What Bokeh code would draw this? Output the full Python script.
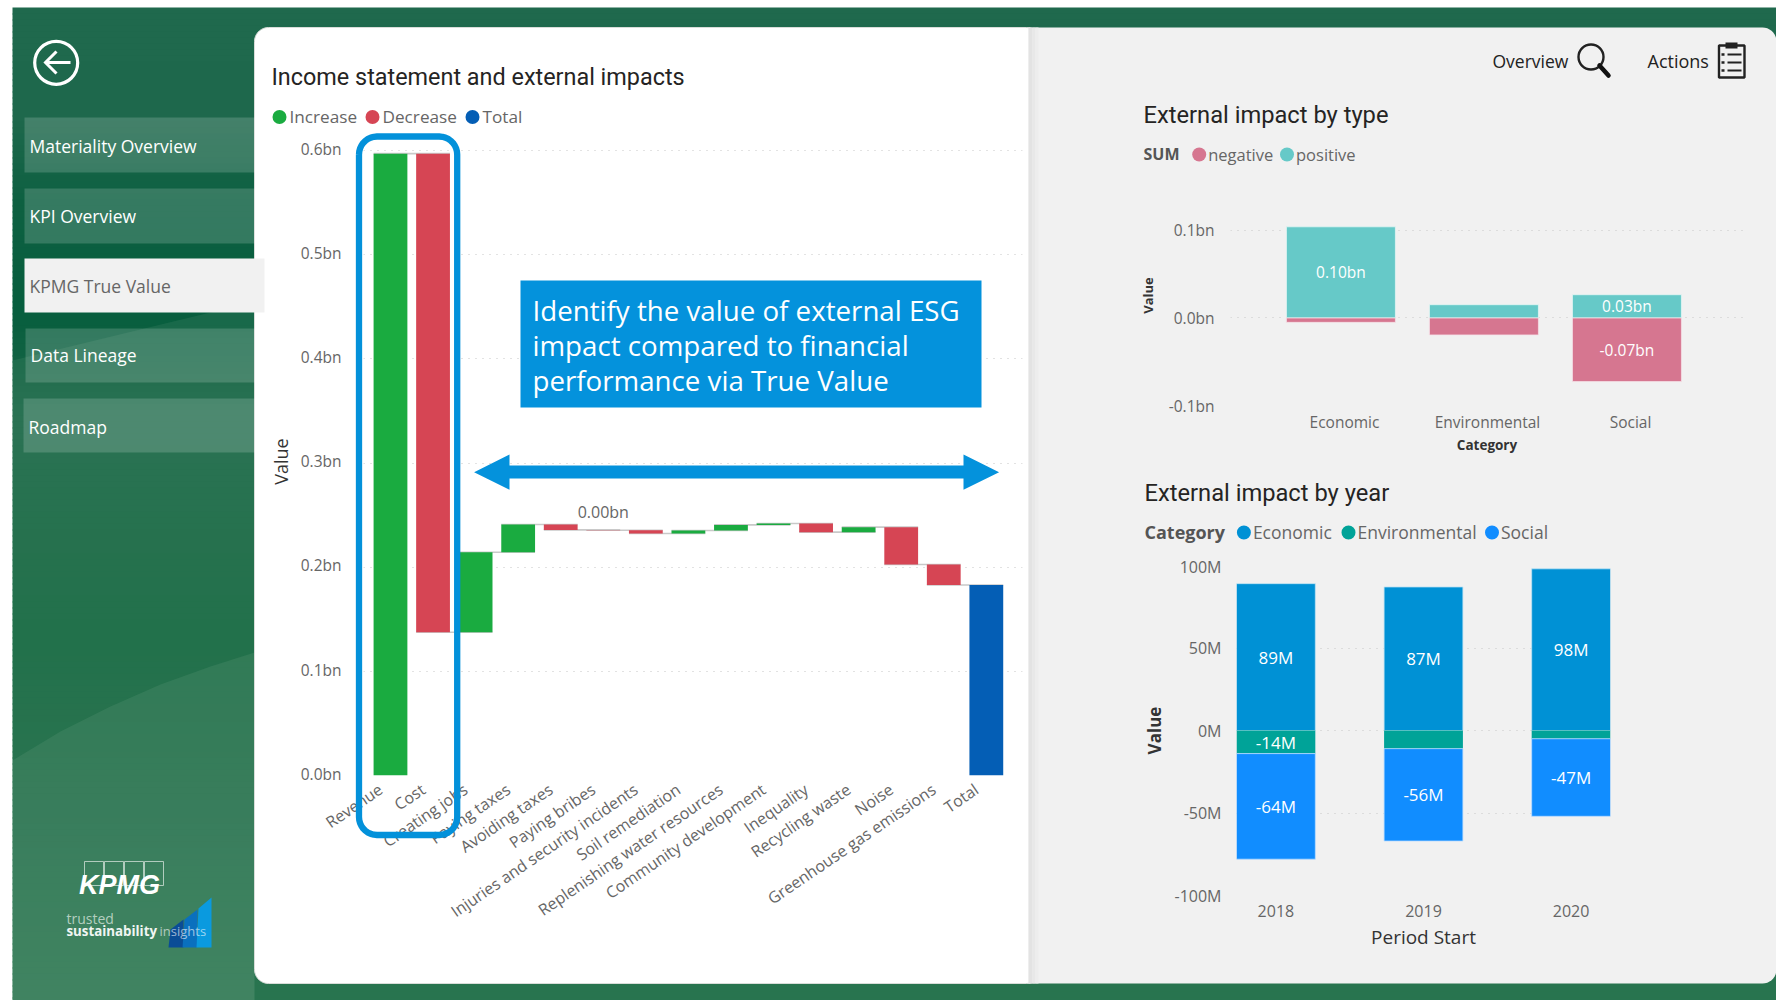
import numpy as np
from bokeh.embed import file_html
from bokeh.layouts import column
from bokeh.models import FixedTicker, Range1d
from bokeh.plotting import figure
from bokeh.resources import INLINE

# ---- Income statement waterfall (bn) ----
waterfall_names = ["Revenue", "Cost", "Creating jobs", "Paying taxes", "Avoiding taxes", "Paying bribes",
                   "Injuries and security incidents", "Soil remediation", "Replenishing water resources",
                   "Community development", "Inequality", "Recycling waste", "Noise",
                   "Greenhouse gas emissions", "Total"]
waterfall_deltas = [0.597, -0.4595, 0.0768, 0.0266, -0.0051, -0.0003, -0.0032, 0.0029, 0.0054, 0.0013,
                    -0.0083, 0.0048, -0.0359, -0.0196]
waterfall_note = {5: "0.00bn"}
waterfall_ticks = [0.0, 0.1, 0.2, 0.3, 0.4, 0.5, 0.6]

# ---- External impact by type (bn) ----
type_names = ["Economic", "Environmental", "Social"]
type_positive = [0.1042, 0.0152, 0.0266]
type_negative = [-0.005, -0.0194, -0.0727]
type_positive_labels = ["0.10bn", "", "0.03bn"]
type_negative_labels = ["", "", "-0.07bn"]
type_ticks = [-0.1, 0.0, 0.1]

# ---- External impact by year (M) ----
years = ["2018", "2019", "2020"]
year_economic = [89, 87, 98]
year_environmental = [-14, -11, -5]
year_social = [-64, -56, -47]
year_economic_labels = ["89M", "87M", "98M"]
year_environmental_labels = ["-14M", "", ""]
year_social_labels = ["-64M", "-56M", "-47M"]
year_ticks = [-100, -50, 0, 50, 100]

INCREASE, DECREASE, TOTAL = "#1AAB40", "#D64554", "#045EB5"
POSITIVE, NEGATIVE = "#66C9C8", "#D67690"
ECONOMIC, ENVIRONMENTAL, SOCIAL = "#0091D5", "#00A398", "#118DFF"
ACCENT = "#0492DC"
AXIS_GREY = "#666666"
BODY_FONT = "Open Sans"
TITLE_FONT = "Roboto"


def place(fig, left, top):
    fig.styles = {"position": "absolute", "left": f"{left}px", "top": f"{top}px"}
    fig.frame_align = False
    return fig


def sheet():
    """Transparent full-window figure whose data units are window pixels."""
    fig = figure(width=1776, height=1000, x_range=Range1d(0, 1776), y_range=Range1d(1000, 0),
                 x_axis_location=None, y_axis_location=None,
                 output_backend="svg", toolbar_location=None, min_border=0,
                 background_fill_color=None, border_fill_color=None, outline_line_color=None)
    fig.grid.visible = False
    return place(fig, 0, 0)


def chart(box, frame, x_range, y_range):
    """Chart whose plotting frame sits at frame=(x0, y0, x1, y1) inside box=(x0, y0, x1, y1)."""
    fig = figure(width=box[2] - box[0], height=box[3] - box[1], x_range=x_range, y_range=y_range,
                 min_border_left=frame[0] - box[0], min_border_right=box[2] - frame[2],
                 min_border_top=frame[1] - box[1], min_border_bottom=box[3] - frame[3],
                 output_backend="svg", toolbar_location=None,
                 background_fill_color=None, border_fill_color=None, outline_line_color=None)
    fig.xgrid.visible = False
    fig.ygrid.grid_line_color = "#C6C6C6"
    fig.ygrid.grid_line_dash = "1 6"
    fig.ygrid.grid_line_width = 1.2
    for ax in fig.axis:
        ax.axis_line_color = None
        ax.major_tick_line_color = None
        ax.minor_tick_line_color = None
        ax.major_label_text_font = BODY_FONT
        ax.major_label_text_color = AXIS_GREY
        ax.axis_label_text_font = BODY_FONT
        ax.axis_label_text_font_style = "normal"
    return place(fig, box[0], box[1])


def write(fig, x, y, text, size, color="#333333", font=BODY_FONT, style="normal", align="left", alpha=1.0):
    fig.text([x], [y], text=[text], text_font_size=f"{size}px", text_color=color, text_alpha=alpha,
             text_font={"value": font}, text_font_style=style, text_align=align, text_baseline="middle")


def rounded(x0, y0, x1, y1, r):
    t = np.linspace(0, np.pi / 2, 10)
    xs = np.concatenate([x0 + r - r * np.cos(t), x1 - r + r * np.sin(t), x1 - r + r * np.cos(t), x0 + r - r * np.sin(t)])
    ys = np.concatenate([y0 + r - r * np.sin(t), y0 + r - r * np.cos(t), y1 - r + r * np.sin(t), y1 - r + r * np.cos(t)])
    return np.append(xs, xs[0]), np.append(ys, ys[0])


def dot_legend(fig, y, heading, heading_x, heading_size, entries, size, gap=9):
    if heading:
        write(fig, heading_x, y, heading, heading_size, color="#555555", style="bold")
    for cx, name, color in entries:
        fig.circle([cx], [y + 0.5], radius=7, fill_color=color, line_color=None)
        write(fig, cx + gap, y, name, size, color=AXIS_GREY)


# ---- Page chrome ----
back = sheet()
stops_y = [7, 120, 200, 310, 420, 640, 800, 1000]
stops_rgb = np.array([[32, 106, 78], [30, 104, 76], [14, 97, 66], [7, 94, 62],
                      [30, 106, 74], [20, 104, 64], [30, 108, 72], [41, 117, 80]], dtype=float)
band_edges = np.append(np.arange(7, 998, 6), 1000)
band_mid = (band_edges[:-1] + band_edges[1:]) / 2
band_colors = ["#%02x%02x%02x" % tuple(int(np.interp(m, stops_y, stops_rgb[:, c])) for c in range(3)) for m in band_mid]
back.quad(left=12, right=1776, top=band_edges[:-1], bottom=band_edges[1:] + 1, fill_color=band_colors, line_color=None)
back.patch([12, 210, 254, 254, 12], [360, 312, 304, 1000, 1000], fill_color="#8FB89F", fill_alpha=0.12, line_color=None)
wave_x = [12, 60, 110, 160, 210, 254, 254, 12]
wave_y = [760, 731, 706, 684, 666, 652, 1000, 1000]
back.patch(wave_x, wave_y, fill_color="#8FB89F", fill_alpha=0.14, line_color=None)

xs, ys = rounded(254, 27, 1040, 983, 14)
back.patch(xs, ys, fill_color="#FFFFFF", line_color="#D8DDD9", line_width=1)
xs, ys = rounded(1000, 27, 1776, 983, 14)
right_half = xs > 1100
back.patch(np.concatenate([[1028], xs[right_half], [1028]]), np.concatenate([[27], ys[right_half], [983]]),
           fill_color="#F1F1F1", line_color=None)
back.quad(left=[1028, 1032, 1035], right=[1032, 1035, 1038], top=27, bottom=983,
          fill_color=["#E3E3E3", "#E8E8E8", "#EDEDED"], line_color=None)

# Navigation
nav_items = [("Materiality Overview", 24, 117, 172, 145, False), ("KPI Overview", 24, 188, 243, 215, False),
             ("KPMG True Value", 24, 258, 312, 285, True), ("Data Lineage", 25, 328, 382, 354.5, False),
             ("Roadmap", 23, 398, 452, 426, False)]
for name, nx, ny0, ny1, ty_label, active in nav_items:
    back.quad(left=nx, right=nx + 240, top=ny0, bottom=ny1, fill_color="#F1F1F1" if active else "#FFFFFF",
              fill_alpha=1.0 if active else 0.17, line_color=None)
    write(back, nx + 5, ty_label, name, 17.5, color="#666666" if active else "#FFFFFF")

# Back button
back.circle([55.7], [62.3], radius=21.5, fill_color=None, line_color="#FFFFFF", line_width=3.2)
back.line([46, 70], [62, 62], line_color="#FFFFFF", line_width=3)
back.line([56, 45, 56], [51, 62, 73], line_color="#FFFFFF", line_width=3, line_join="miter")

# Brand block
for k in range(4):
    back.quad(left=84 + k * 20, right=103 + k * 20, top=861, bottom=885, fill_color=None,
              line_color="#CFE0D6", line_width=1, line_alpha=0.8)
write(back, 119, 884, "KPMG", 27, color="#FFFFFF", font="Liberation Sans", style="bold italic", align="center")
write(back, 66, 918, "trusted", 14, color="#D5E3DA", alpha=0.8)
write(back, 66, 930, "sustainability", 13.3, color="#F0F5F2", style="bold")
back.patch([170, 183, 183, 168], [929, 919, 947, 947], fill_color="#0A4C96", line_color=None)
back.patch([184, 197, 197, 182], [919, 909, 947, 947], fill_color="#0A70BE", line_color=None)
back.patch([198, 211, 211, 196], [908, 897, 947, 947], fill_color="#0A9ADF", line_color=None)
write(back, 159, 930, "insights", 13, color="#FFFFFF", alpha=0.6)

# Report links
write(back, 1492, 60, "Overview", 17.5, color="#222222")
back.circle([1590.5], [56.5], radius=12.5, fill_color=None, line_color="#222222", line_width=2.4)
back.line([1599, 1608], [65, 75], line_color="#111111", line_width=4.5, line_cap="round")
write(back, 1647, 60, "Actions", 18, color="#222222")
back.quad(left=1718.5, right=1744, top=45, bottom=77, fill_color=None, line_color="#222222", line_width=2.4)
back.quad(left=1725, right=1737, top=42, bottom=48, fill_color="#222222", line_color=None)
for row in (54, 62, 70):
    back.line([1721, 1724], [row, row], line_color="#222222", line_width=2.4)
    back.line([1727, 1741], [row, row], line_color="#222222", line_width=2)

# Section headings and colour keys
write(back, 271, 76, "Income statement and external impacts", 23.4, color="#252423", font=TITLE_FONT)
dot_legend(back, 116, None, 0, 0, [(279, "Increase", INCREASE), (372, "Decrease", DECREASE), (472, "Total", TOTAL)], 17.2, gap=10)
write(back, 1143, 114, "External impact by type", 23.7, color="#252423", font=TITLE_FONT)
dot_legend(back, 153.5, "SUM", 1143, 16, [(1198.7, "negative", NEGATIVE), (1286.5, "positive", POSITIVE)], 16.5)
write(back, 1144, 492, "External impact by year", 23.7, color="#252423", font=TITLE_FONT)
dot_legend(back, 531.5, "Category", 1144, 18, [(1243.4, "Economic", ECONOMIC), (1348, "Environmental", ENVIRONMENTAL),
                                               (1491.5, "Social", SOCIAL)], 17.5)

# ---- Waterfall ----
running = np.cumsum(waterfall_deltas)
starts = np.concatenate([[0], running[:-1], [0]])
ends = np.concatenate([running, [running[-1]]])
idx = np.arange(len(waterfall_names))
wf_colors = [INCREASE if d > 0 else DECREASE for d in waterfall_deltas] + [TOTAL]

wf = chart((254, 137, 1026, 960), (363, 147, 1022, 775), Range1d(-0.634, 14.85), Range1d(0, 0.60288))
half = 0.397
wf.segment(x0=idx[:-1] - half, x1=idx[1:] + half, y0=running, y1=running, line_color="#C9C9C9", line_width=1.6)
wf.quad(left=idx - half, right=idx + half, bottom=np.minimum(starts, ends), top=np.maximum(starts, ends),
        fill_color=wf_colors, line_color=None)
for i, note in waterfall_note.items():
    wf.text([i], [max(starts[i], ends[i])], text=[note], text_font_size="16px", text_color=AXIS_GREY,
            text_font={"value": BODY_FONT}, text_align="center", text_baseline="bottom", y_offset=-7)
# Value labels ride slightly above their gridlines
wf_value_ticks = [round(t + 0.0017, 4) for t in waterfall_ticks]
wf.yaxis.ticker = FixedTicker(ticks=wf_value_ticks)
wf.ygrid.ticker = FixedTicker(ticks=waterfall_ticks)
wf.yaxis.major_label_overrides = {s: f"{t:.1f}bn" for s, t in zip(wf_value_ticks, waterfall_ticks)}
wf.yaxis.major_label_text_font_size = "15.5px"
wf.yaxis.major_label_standoff = 16
wf.yaxis.axis_label = "Value"
wf.yaxis.axis_label_text_font_size = "18px"
wf.yaxis.axis_label_text_color = "#333333"
wf.yaxis.axis_label_standoff = 5
# Slanted category labels end a little to the left of their bars
wf_label_ticks = [round(float(i) - 0.23, 2) for i in idx]
wf.xaxis.ticker = FixedTicker(ticks=wf_label_ticks)
wf.xaxis.major_label_overrides = dict(zip(wf_label_ticks, waterfall_names))
wf.xaxis.major_label_orientation = 0.6
wf.xaxis.major_label_text_font_size = "16px"
wf.xaxis.major_label_standoff = 6

# ---- By type ----
tx = np.arange(len(type_names))
ty = chart((1130, 175, 1750, 480), (1230, 185, 1743, 405), Range1d(-0.772, 2.815), Range1d(-0.1, 0.1514))
half = 0.381
ty.quad(left=tx - half, right=tx + half, bottom=0, top=type_positive, fill_color=POSITIVE, line_color="#E5F5F4", line_width=0.8)
ty.quad(left=tx - half, right=tx + half, bottom=type_negative, top=0, fill_color=NEGATIVE, line_color="#F5E1E7", line_width=0.8)
ty.text(tx, np.array(type_positive) / 2, text=type_positive_labels, text_font_size="15.5px", text_color="#FFFFFF",
        text_font={"value": BODY_FONT}, text_align="center", text_baseline="middle")
ty.text(tx, np.array(type_negative) / 2, text=type_negative_labels, text_font_size="15.5px", text_color="#FFFFFF",
        text_font={"value": BODY_FONT}, text_align="center", text_baseline="middle")
ty.yaxis.ticker = FixedTicker(ticks=type_ticks)
ty.yaxis.major_label_overrides = {t: f"{t:.1f}bn" for t in type_ticks}
ty.yaxis.major_label_text_font_size = "15.5px"
ty.yaxis.major_label_standoff = 10
ty.yaxis.axis_label = "Value"
ty.yaxis.axis_label_text_font_size = "13px"
ty.yaxis.axis_label_text_font_style = "bold"
ty.yaxis.axis_label_text_color = "#333333"
ty.yaxis.axis_label_standoff = 9
# Category names sit just right of the bar centres
ty_label_ticks = [round(float(i) + 0.025, 3) for i in tx]
ty.xaxis.ticker = FixedTicker(ticks=ty_label_ticks)
ty.xaxis.major_label_overrides = dict(zip(ty_label_ticks, type_names))
ty.xaxis.major_label_text_font_size = "15.5px"
ty.xaxis.major_label_standoff = -1
ty.xaxis.axis_label = "Category"
ty.xaxis.axis_label_text_font_size = "13.5px"
ty.xaxis.axis_label_text_font_style = "bold"
ty.xaxis.axis_label_text_color = "#333333"
ty.xaxis.axis_label_standoff = 0

# ---- By year ----
yx = np.arange(len(years))
yr = chart((1130, 555, 1620, 980), (1236, 565, 1610, 895), Range1d(-0.267, 2.267), Range1d(-100, 100))
half = 0.267
env = np.array(year_environmental)
soc = np.array(year_social)
eco = np.array(year_economic)
yr.quad(left=yx - half, right=yx + half, bottom=0, top=eco, fill_color=ECONOMIC, line_color="#BFE3F4", line_width=0.8)
yr.quad(left=yx - half, right=yx + half, bottom=env, top=0, fill_color=ENVIRONMENTAL, line_color=None)
yr.quad(left=yx - half, right=yx + half, bottom=env + soc, top=env, fill_color=SOCIAL, line_color="#BBDDFF", line_width=0.8)
for mids, texts in ((eco / 2, year_economic_labels), (env / 2, year_environmental_labels),
                    (env + soc / 2, year_social_labels)):
    yr.text(yx, mids, text=texts, text_font_size="17px", text_color="#FFFFFF",
            text_font={"value": BODY_FONT}, text_align="center", text_baseline="middle")
yr.yaxis.ticker = FixedTicker(ticks=year_ticks)
yr.yaxis.major_label_overrides = {t: f"{t}M" for t in year_ticks}
yr.yaxis.major_label_text_font_size = "16px"
yr.yaxis.major_label_standoff = 9
yr.yaxis.axis_label = "Value"
yr.yaxis.axis_label_text_font_size = "17px"
yr.yaxis.axis_label_text_font_style = "bold"
yr.yaxis.axis_label_text_color = "#333333"
yr.yaxis.axis_label_standoff = 6
yr.xaxis.ticker = FixedTicker(ticks=list(yx))
yr.xaxis.major_label_overrides = {int(i): n for i, n in zip(yx, years)}
yr.xaxis.major_label_text_font_size = "16px"
yr.xaxis.major_label_standoff = 3
yr.xaxis.axis_label = "Period Start"
yr.xaxis.axis_label_text_font_size = "19px"
yr.xaxis.axis_label_text_color = "#333333"
yr.xaxis.axis_label_standoff = 4

# ---- Annotations drawn over the charts ----
top = sheet()
xs, ys = rounded(358.5, 136, 456.7, 834.5, 18)
top.line(xs, ys, line_color="#0391DA", line_width=6.3)
top.quad(left=520, right=981, top=280, bottom=407, fill_color=ACCENT, line_color=None)
callout_lines = ["Identify the value of external ESG", "impact compared to financial", "performance via True Value"]
for line, ly in zip(callout_lines, (309, 344, 379)):
    write(top, 532, ly, line, 27.7, color="#FFFFFF", font="Open Sans")
top.patch([473.6, 509, 509, 963, 963, 998.6, 963, 963, 509, 509],
          [471.7, 454, 465, 465, 454, 471.7, 489.3, 478, 478, 489.3],
          fill_color=ACCENT, line_color=None)

root = column(back, wf, ty, yr, top, width=1776, height=1000, sizing_mode="fixed")
open("out.html", "w").write(file_html(root, INLINE))
